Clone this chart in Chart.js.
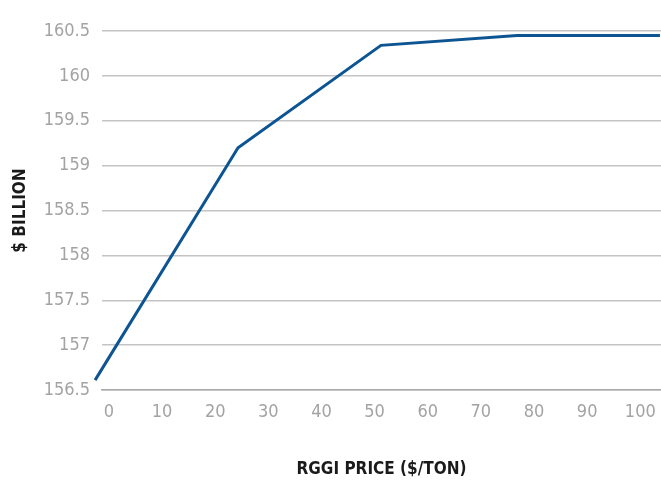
<!DOCTYPE html>
<html>
<head>
<meta charset="utf-8">
<script src="https://cdn.jsdelivr.net/npm/chart.js@4/dist/chart.umd.min.js"></script>
<style>
  html, body { margin: 0; padding: 0; background: #fff; }
  #wrap { width: 661px; height: 487px; }
</style>
</head>
<body>
<div id="wrap"><canvas id="rggi"></canvas></div>
<script>
// values
const prices = [-2.6, 24.3, 51.2, 76.8, 103.7];
const gdp = [156.61, 159.20, 160.34, 160.45, 160.45];
const xTicks = [0, 10, 20, 30, 40, 50, 60, 70, 80, 90, 100];
const yTicks = [156.5, 157, 157.5, 158, 158.5, 159, 159.5, 160, 160.5];

const FONT = '"Liberation Sans Narrow", "DejaVu Sans Condensed", Roboto, sans-serif';
const ctx = document.getElementById("rggi");

new Chart(ctx, {
  type: 'line',
  data: {
    datasets: [{
      label: 'GDP',
      data: prices.map((p, i) => ({ x: p, y: gdp[i] })),
      borderColor: '#0d5592',
      borderWidth: 3,
      pointRadius: 0,
      tension: 0,
      clip: false
    }]
  },
  options: {
    responsive: true,
    maintainAspectRatio: false,
    animation: false,
    layout: { padding: { top: 31, right: 0, left: 0, bottom: 0 } },
    plugins: {
      legend: { display: false },
      tooltip: { enabled: false }
    },
    scales: {
      x: {
        type: 'linear',
        min: -1.3,
        max: 103.9,
        afterBuildTicks: (s) => { s.ticks = xTicks.map((v) => ({ value: v })); },
        afterFit: (s) => { s.height = 97; s.paddingLeft = 0; s.paddingRight = 0; },
        grid: { display: false, drawTicks: false },
        border: { display: true, color: '#a8a8a8', width: 1.5 },
        ticks: {
          padding: 12,
          color: '#a3a3a3',
          font: { family: FONT, size: 18 },
          maxRotation: 0,
          autoSkip: false
        },
        title: {
          display: true,
          text: 'RGGI PRICE ($/TON)',
          color: '#1a1a1a',
          font: { family: FONT, size: 17, weight: 'bold' },
          padding: { top: 0, bottom: 7 }
        }
      },
      y: {
        min: 156.5,
        max: 160.5,
        afterBuildTicks: (s) => { s.ticks = yTicks.map((v) => ({ value: v })); },
        afterFit: (s) => { s.width = 102; },
        grid: { color: '#c4c4c4', lineWidth: 1.5, drawTicks: false },
        border: { display: false },
        ticks: {
          padding: 12,
          color: '#a3a3a3',
          font: { family: FONT, size: 18 },
          callback: (v) => String(v)
        },
        title: {
          display: true,
          text: '$ BILLION',
          color: '#1a1a1a',
          font: { family: FONT, size: 17, weight: 'bold' },
          padding: { top: 10, bottom: 0 }
        }
      }
    }
  }
});
</script>
</body>
</html>
